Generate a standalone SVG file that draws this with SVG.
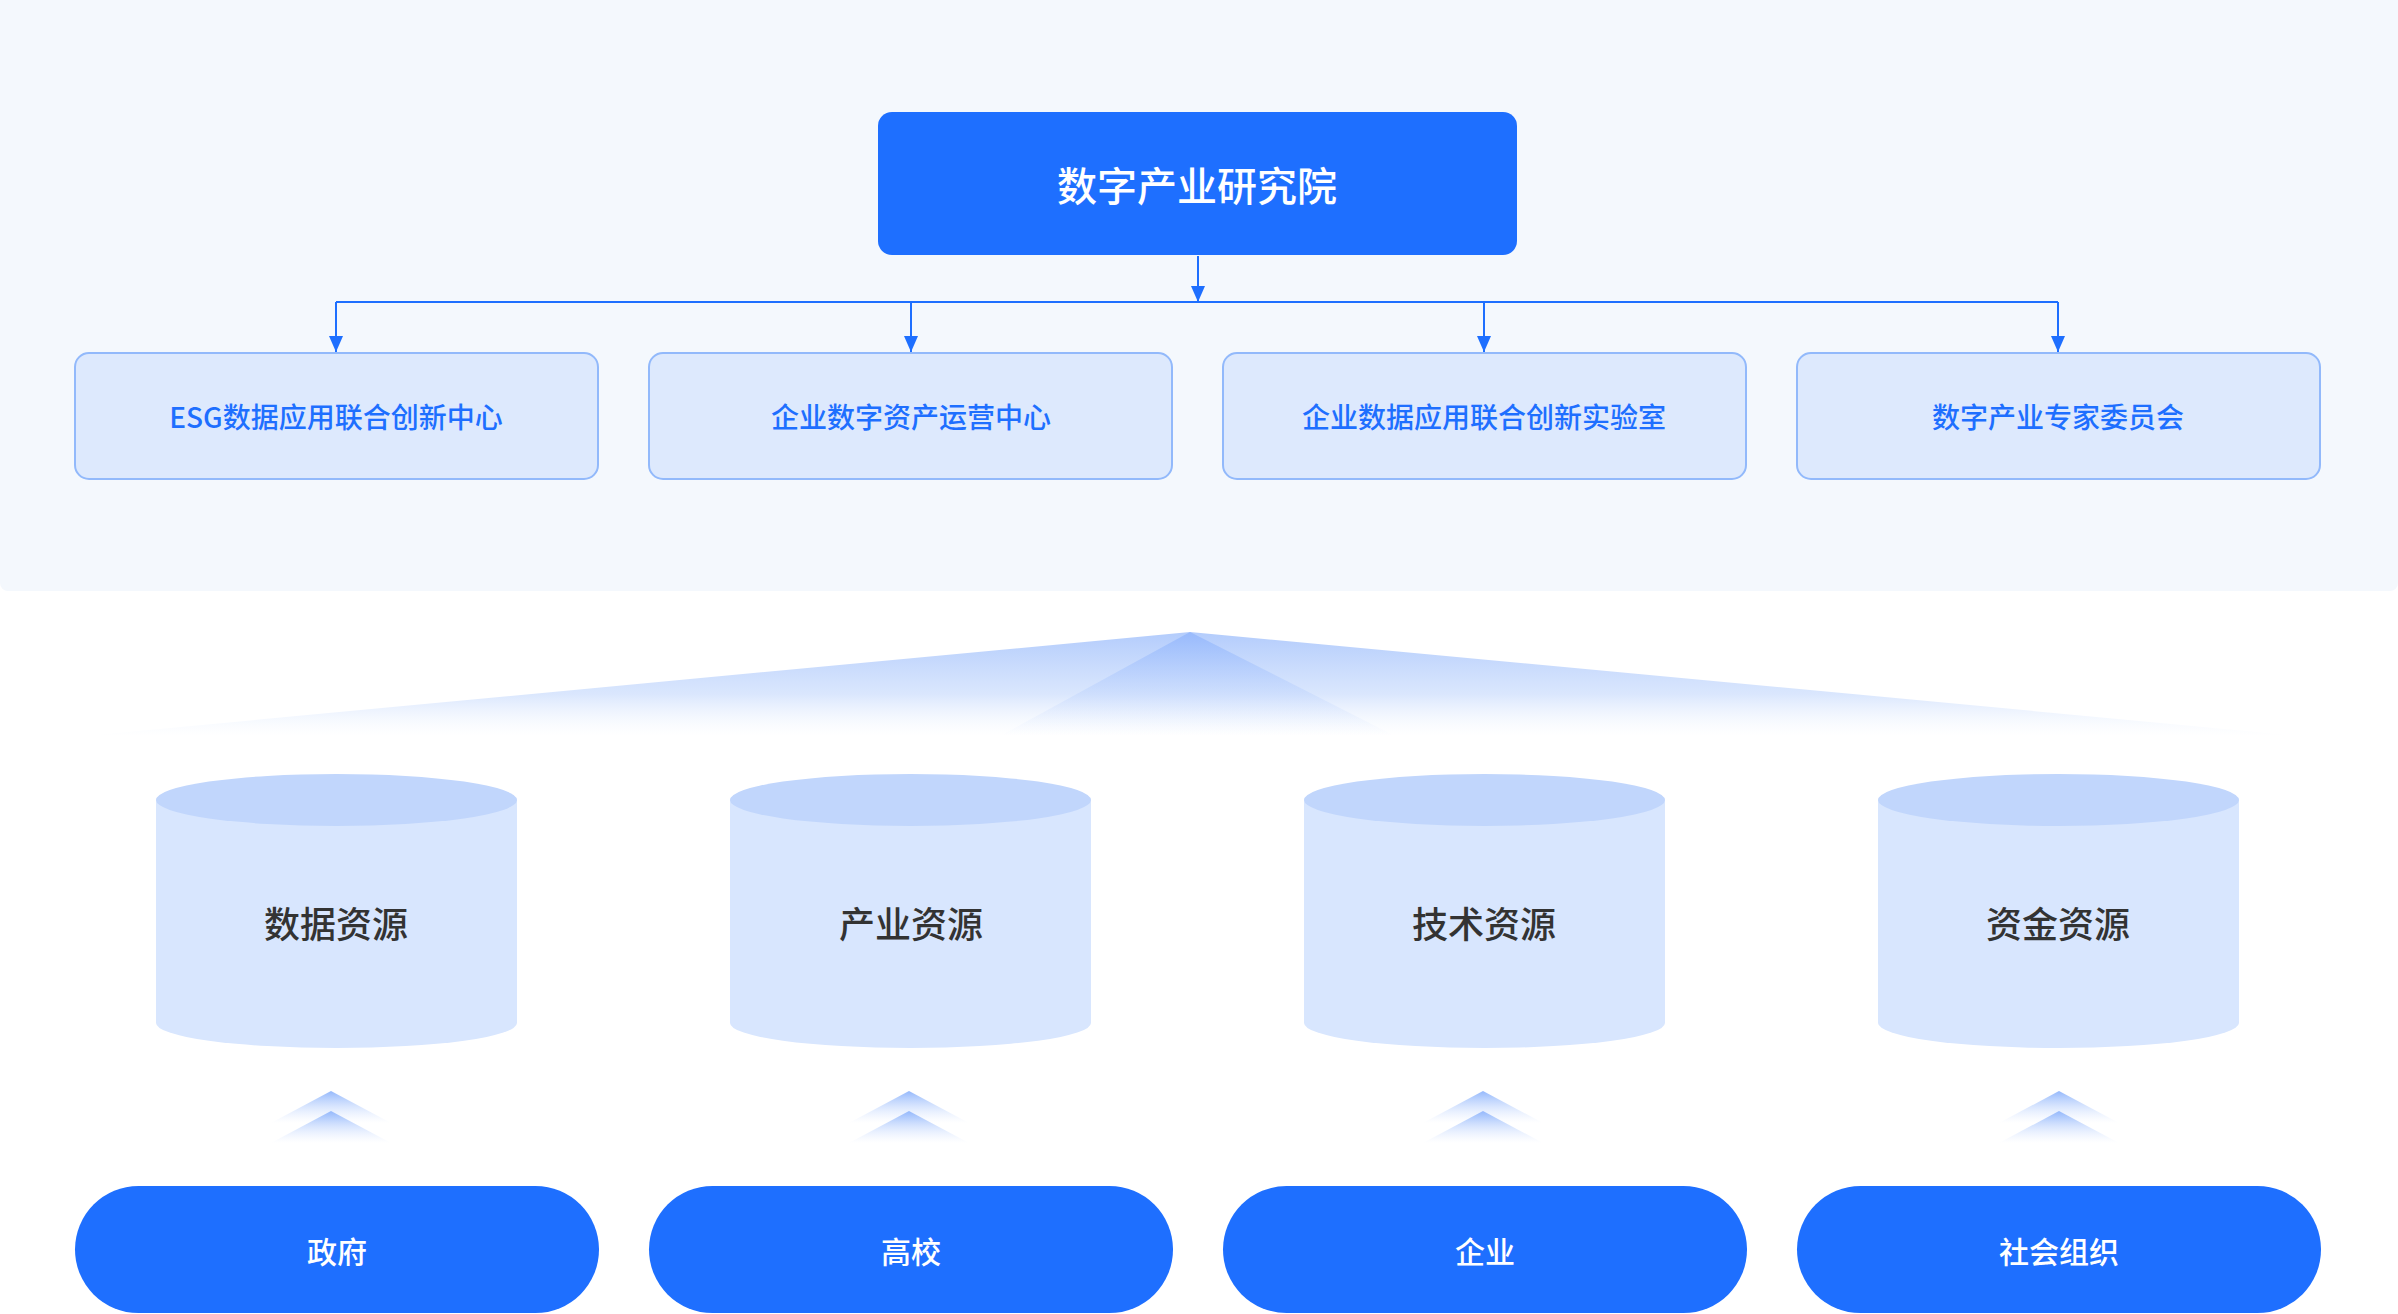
<svg xmlns="http://www.w3.org/2000/svg" width="2398" height="1314" viewBox="0 0 2398 1314">
<style>
text{font-family:"Noto Sans CJK SC","Noto Sans",sans-serif;text-anchor:middle;dominant-baseline:central}
.main{fill:#1e6fff}
.mainT{fill:#ffffff;font-size:40px;font-weight:500}
.child{fill:#dde9fd;stroke:#92b9fb;stroke-width:2}
.childT{fill:#1e6fff;font-size:28px;font-weight:500}
.cylBody{fill:#d8e6fe}
.cylTop{fill:#c1d6fc}
.cylT{fill:#333333;font-size:36px;font-weight:500}
.pill{fill:#1e6fff}
.pillT{fill:#ffffff;font-size:30px;font-weight:500}
.conn{stroke:#1e6fff;stroke-width:2;fill:none}
</style>
<defs>
<marker id="arr" viewBox="0 0 16 14" refX="16" refY="7" markerWidth="16" markerHeight="14" markerUnits="userSpaceOnUse" orient="auto">
<path d="M0,0 L16,7 L0,14 Z" fill="#1e6fff"/>
</marker>
<linearGradient id="fanOuter" x1="0" y1="0" x2="0" y2="1">
<stop offset="0" stop-color="#b3ccfc" stop-opacity="1"/>
<stop offset="0.6" stop-color="#d6e4fd" stop-opacity="0.9"/>
<stop offset="1" stop-color="#eef4fe" stop-opacity="0"/>
</linearGradient>
<linearGradient id="fanInner" x1="0" y1="0" x2="0" y2="1">
<stop offset="0" stop-color="#8fb4fc" stop-opacity="0.75"/>
<stop offset="1" stop-color="#c9dbfd" stop-opacity="0"/>
</linearGradient>
<linearGradient id="chev" x1="0" y1="0" x2="0" y2="1">
<stop offset="0" stop-color="#94b8fc" stop-opacity="1"/>
<stop offset="1" stop-color="#d6e4fe" stop-opacity="0"/>
</linearGradient>
<g id="chevs">
<path d="M0,0 L60,32 L-60,32 Z" fill="url(#chev)"/>
<path d="M0,20 L60,52 L-60,52 Z" fill="url(#chev)"/>
</g>
</defs>
<rect x="0" y="0" width="2398" height="1314" fill="#ffffff"/>
<rect x="0" y="-20" width="2398" height="611" rx="8" fill="#f4f8fd"/>

<g id="connectors">
<line class="conn" x1="1198" y1="256" x2="1198" y2="302" marker-end="url(#arr)"/>
<line class="conn" x1="336" y1="302" x2="2058" y2="302"/>
<line class="conn" x1="336" y1="302" x2="336" y2="352" marker-end="url(#arr)"/>
<line class="conn" x1="911" y1="302" x2="911" y2="352" marker-end="url(#arr)"/>
<line class="conn" x1="1484" y1="302" x2="1484" y2="352" marker-end="url(#arr)"/>
<line class="conn" x1="2058" y1="302" x2="2058" y2="352" marker-end="url(#arr)"/>
</g>

<g id="node-main">
<rect class="main" x="878" y="112" width="639" height="143" rx="14"/>
<text class="mainT" x="1197" y="184">数字产业研究院</text>
</g>

<g id="node-esg">
<rect class="child" x="75" y="353" width="523" height="126" rx="14"/>
<text class="childT" x="336" y="416">ESG数据应用联合创新中心</text>
</g>
<g id="node-asset">
<rect class="child" x="649" y="353" width="523" height="126" rx="14"/>
<text class="childT" x="911" y="416">企业数字资产运营中心</text>
</g>
<g id="node-lab">
<rect class="child" x="1223" y="353" width="523" height="126" rx="14"/>
<text class="childT" x="1484" y="416">企业数据应用联合创新实验室</text>
</g>
<g id="node-expert">
<rect class="child" x="1797" y="353" width="523" height="126" rx="14"/>
<text class="childT" x="2058" y="416">数字产业专家委员会</text>
</g>

<g id="fan">
<path d="M1190,632 L2300,736 L85,736 Z" fill="url(#fanOuter)"/>
<path d="M1190,632 L1395,736 L1000,736 Z" fill="url(#fanInner)"/>
</g>

<g id="node-data">
<path class="cylBody" d="M156,800 L156,1023 A180.5,25 0 0 0 517,1023 L517,800 Z"/>
<ellipse class="cylTop" cx="336.5" cy="800" rx="180.5" ry="26"/>
<text class="cylT" x="336" y="922">数据资源</text>
</g>
<g id="node-industry">
<path class="cylBody" d="M730,800 L730,1023 A180.5,25 0 0 0 1091,1023 L1091,800 Z"/>
<ellipse class="cylTop" cx="910.5" cy="800" rx="180.5" ry="26"/>
<text class="cylT" x="911" y="922">产业资源</text>
</g>
<g id="node-tech">
<path class="cylBody" d="M1304,800 L1304,1023 A180.5,25 0 0 0 1665,1023 L1665,800 Z"/>
<ellipse class="cylTop" cx="1484.5" cy="800" rx="180.5" ry="26"/>
<text class="cylT" x="1484" y="922">技术资源</text>
</g>
<g id="node-fund">
<path class="cylBody" d="M1878,800 L1878,1023 A180.5,25 0 0 0 2239,1023 L2239,800 Z"/>
<ellipse class="cylTop" cx="2058.5" cy="800" rx="180.5" ry="26"/>
<text class="cylT" x="2058" y="922">资金资源</text>
</g>

<g id="chevrons">
<use href="#chevs" x="331" y="1091"/>
<use href="#chevs" x="909" y="1091"/>
<use href="#chevs" x="1483" y="1091"/>
<use href="#chevs" x="2059" y="1091"/>
</g>

<g id="node-gov">
<rect class="pill" x="75" y="1186" width="524" height="127" rx="63.5"/>
<text class="pillT" x="337" y="1250">政府</text>
</g>
<g id="node-univ">
<rect class="pill" x="649" y="1186" width="524" height="127" rx="63.5"/>
<text class="pillT" x="911" y="1250">高校</text>
</g>
<g id="node-ent">
<rect class="pill" x="1223" y="1186" width="524" height="127" rx="63.5"/>
<text class="pillT" x="1485" y="1250">企业</text>
</g>
<g id="node-social">
<rect class="pill" x="1797" y="1186" width="524" height="127" rx="63.5"/>
<text class="pillT" x="2059" y="1250">社会组织</text>
</g>
</svg>
